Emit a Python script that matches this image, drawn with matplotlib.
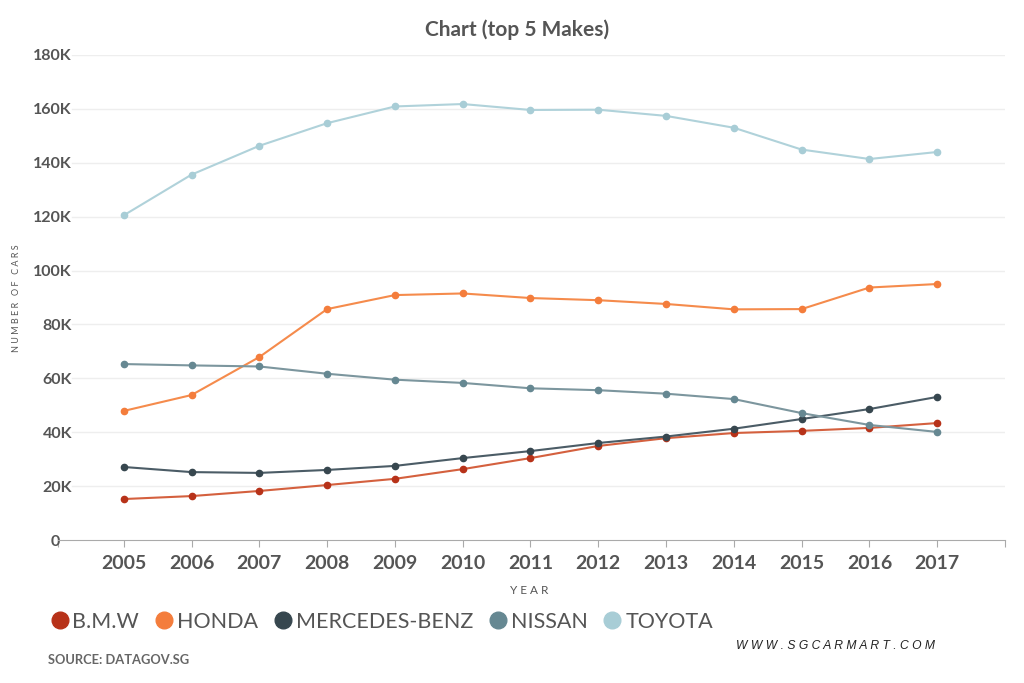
import matplotlib
matplotlib.use("Agg")
import matplotlib.pyplot as plt
from matplotlib.lines import Line2D
from matplotlib.ticker import FuncFormatter
import matplotlib.transforms as mtransforms

years = [2005, 2006, 2007, 2008, 2009, 2010, 2011, 2012, 2013, 2014, 2015, 2016, 2017]
bmw = [15200, 16300, 18200, 20400, 22700, 26300, 30400, 34900, 37800, 39700, 40500, 41600, 43400]
honda = [47900, 53800, 67900, 85700, 90900, 91500, 89800, 89000, 87600, 85600, 85700, 93700, 95000]
mercedes = [27100, 25200, 24900, 26000, 27500, 30400, 33000, 36000, 38400, 41300, 44900, 48600, 53100]
nissan = [65300, 64800, 64400, 61700, 59500, 58300, 56300, 55600, 54300, 52300, 47100, 42700, 40100]
toyota = [120500, 135600, 146300, 154700, 160900, 161800, 159600, 159700, 157400, 153000, 144900, 141400, 144000]
yticks = [0, 20000, 40000, 60000, 80000, 100000, 120000, 140000, 160000, 180000]

names = ["B.M.W", "HONDA", "MERCEDES-BENZ", "NISSAN", "TOYOTA"]
series = [bmw, honda, mercedes, nissan, toyota]
line_colors = ["#d4603e", "#f58b4c", "#4b5c66", "#7c969e", "#b0d2da"]
marker_colors = ["#b73219", "#f47d3c", "#37474f", "#668892", "#a8cdd6"]

plt.rcParams['font.family'] = ['Lato', 'DejaVu Sans']

fig = plt.figure(figsize=(10.24, 6.83), dpi=100)
ax = fig.add_axes([58/1024, 1-540/683, (1005-58)/1024, (540-55)/683])

for vals, lc, mc in zip(series, line_colors, marker_colors):
    ax.plot(years, vals, color=lc, lw=1.5, marker='o', markersize=4.5,
            markerfacecolor=mc, markeredgecolor=mc, zorder=3)

x0, x1 = 2004.03, 2018.0
ax.set_xlim(x0, x1)
ax.set_ylim(0, 180000)
ax.set_yticks(yticks)
ax.yaxis.set_major_formatter(FuncFormatter(lambda v, p: "0" if v == 0 else f"{int(v/1000)}K"))
ax.set_xticks([x0] + years + [2018])
ax.set_xticklabels([""] + [str(y) for y in years] + [""])

for yt in yticks[1:]:
    ax.axhline(yt, xmin=14/947, xmax=1, color='#eeeeee', lw=1, zorder=0)
for s in ['top', 'right', 'left']:
    ax.spines[s].set_visible(False)
ax.spines['bottom'].set_color('#aaaaaa')
ax.tick_params(axis='y', length=0, labelsize=11.5, labelcolor='#555555', pad=-10)
ax.tick_params(axis='x', length=5, color='#aaaaaa', labelsize=14, labelcolor='#555555', pad=6)
for lbl in ax.get_yticklabels() + ax.get_xticklabels():
    lbl.set_fontweight('bold')
# the "0" label sits left of the axis line start
zero_lbl = ax.get_yticklabels()[0]
zero_lbl.set_transform(zero_lbl.get_transform() +
                       mtransforms.ScaledTranslation(-12/100, 0, fig.dpi_scale_trans))

fig.text(0.505, 1-30/683, "Chart (top 5 Makes)", ha='center', va='center',
         fontsize=15, fontweight='bold', color='#555555')
fig.text(17/1024, 1-298/683, "N U M B E R   O F   C A R S", rotation=90, ha='center', va='center',
         fontsize=6.5, color='#555555')
fig.text(0.517, 1-590/683, "Y E A R", ha='center', va='center', fontsize=8.5, color='#555555')

handles = [Line2D([], [], marker='o', linestyle='', markersize=12,
                  markerfacecolor=mc, markeredgecolor=mc) for mc in marker_colors]
leg = fig.legend(handles, names, loc='center left', bbox_to_anchor=(38/1024, 1-622/683), ncol=5,
                 frameon=False, fontsize=15.5, handletextpad=0.0, columnspacing=0.55,
                 handlelength=1.2, borderaxespad=0)
for t in leg.get_texts():
    t.set_color('#555555')

fig.text(48/1024, 1-660/683, "SOURCE: DATAGOV.SG", ha='left', va='center', fontsize=9.3,
         fontweight='bold', color='#666666')
fig.text(935/1024, 1-646/683, "W W W . S G C A R M A R T . C O M", ha='right', va='center',
         fontsize=8.7, style='italic', color='#222222', family=['Liberation Sans', 'DejaVu Sans'])

fig.savefig("out.png", dpi=100, facecolor='white')
